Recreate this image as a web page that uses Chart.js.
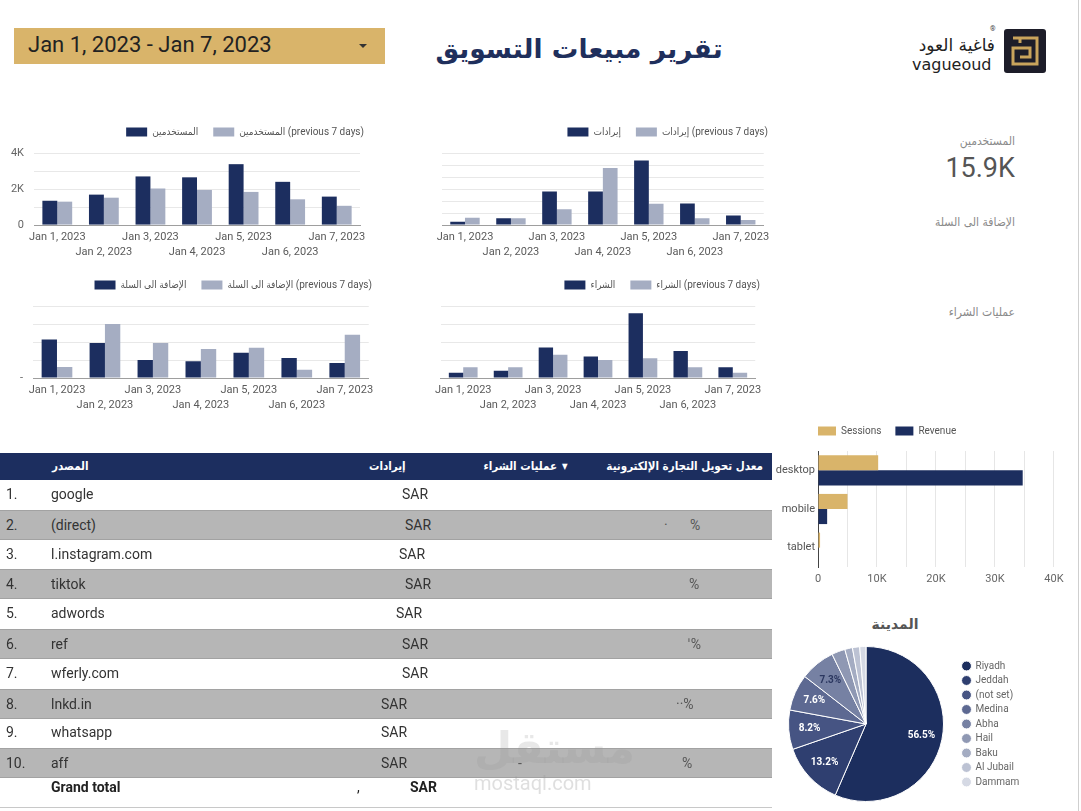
<!DOCTYPE html>
<html>
<head>
<meta charset="utf-8">
<title>تقرير مبيعات التسويق</title>
<script src="https://cdn.jsdelivr.net/npm/chart.js@4.4.1/dist/chart.umd.min.js"></script>
<style>
  html, body { margin: 0; padding: 0; }
  body { width: 1081px; height: 811px; position: relative; overflow: hidden; background: #fff;
         font-family: Roboto, 'DejaVu Sans', sans-serif; color: #333; }
  .abs { position: absolute; }
  .date-range { left: 14px; top: 28px; width: 371px; height: 36px; background: #d9b46a; }
  .date-range span { position: absolute; left: 14px; top: 4px; font-size: 22px; color: #222; }
  .date-range i { position: absolute; left: 345px; top: 16px; border-left: 4px solid transparent;
                  border-right: 4px solid transparent; border-top: 4px solid #333; }
  .title { left: 379px; width: 400px; top: 33px; text-align: center; direction: rtl;
           font: bold 26.5px 'DejaVu Sans', sans-serif; color: #1f2f5c; }
  .brand-ar { left: 880px; width: 115px; top: 35px; text-align: right; direction: rtl; font: 17px 'DejaVu Sans', sans-serif; color: #222; }
  .brand-en { left: 912px; top: 55px; font: 16px 'DejaVu Sans', sans-serif; color: #222; }
  .reg { left: 990px; top: 25px; font-size: 7px; color: #444; }
  .logo { left: 1004px; top: 29px; width: 42px; height: 44px; background: #1d1d29; border-radius: 3px; }
  .edge { left: 1078px; top: 0; width: 1px; height: 811px; background: #cfcfcf; }
  .kpi-label { right: 66px; direction: rtl; font: 12px 'DejaVu Sans Condensed', 'DejaVu Sans', sans-serif; color: #8a8a8a; }
  .kpi-value { right: 66px; top: 152px; font-size: 27px; color: #555; }
  .chart { position: absolute; }
  .thead { left: 0; top: 453px; width: 772px; height: 27px; background: #1c2e5f; }
  .thead div { position: absolute; top: 6px; direction: rtl; white-space: nowrap; font: bold 11.5px 'DejaVu Sans Condensed', 'DejaVu Sans', sans-serif; color: #fff; }
  .row { position: absolute; left: 0; width: 772px; height: 30px; font-size: 14px; color: #333; }
  .row.alt { background: #b6b6b6; border-top: 1px solid #a2a2a2; border-bottom: 1px solid #a2a2a2; box-sizing: border-box; }
  .row span { position: absolute; top: 6px; white-space: nowrap; }
  .total { position: absolute; left: 0; top: 777px; width: 772px; height: 30px; border-bottom: 1px solid #c8c8c8; font-size: 14px; color: #222; font-weight: bold; }
  .total span { position: absolute; top: 2px; }
  .city-title { left: 845px; width: 100px; top: 616px; text-align: center; direction: rtl; font: bold 14px 'DejaVu Sans', sans-serif; color: #555; }
  .mark1 { left: 474px; top: 722px; font: bold 44px 'DejaVu Sans', sans-serif; color: rgba(150,150,150,0.22); direction: rtl; }
  .mark2 { left: 474px; top: 771px; font-size: 20px; color: rgba(150,150,150,0.3); }
</style>
</head>
<body>

<div class="abs date-range"><span>Jan 1, 2023 - Jan 7, 2023</span><i></i></div>
<div class="abs title">تقرير مبيعات التسويق</div>
<div class="abs brand-ar">فاغية العود</div>
<div class="abs brand-en">vagueoud</div>
<div class="abs reg">®</div>
<div class="abs logo">
  <svg width="42" height="44" viewBox="0 0 42 44">
    <path d="M9 9 H33 V35 H9 V19 H26 V28 H16" stroke="#c9a45c" stroke-width="3" fill="none"/>
    <path d="M16 9 V14" stroke="#c9a45c" stroke-width="3" fill="none"/>
  </svg>
</div>
<div class="abs edge"></div>

<div class="abs kpi-label" style="top:134px">المستخدمين</div>
<div class="abs kpi-value">15.9K</div>
<div class="abs kpi-label" style="top:215px">الإضافة الى السلة</div>
<div class="abs kpi-label" style="top:305px">عمليات الشراء</div>

<div class="chart" style="left:0;top:112px;width:370px;height:152px"><canvas id="usersChart"></canvas></div>
<div class="chart" style="left:430px;top:112px;width:344px;height:152px"><canvas id="revenueChart"></canvas></div>
<div class="chart" style="left:0;top:265px;width:378px;height:152px"><canvas id="cartChart"></canvas></div>
<div class="chart" style="left:430px;top:265px;width:336px;height:152px"><canvas id="buyChart"></canvas></div>
<div class="chart" style="left:770px;top:412px;width:299px;height:179px"><canvas id="deviceChart"></canvas></div>
<div class="abs city-title">المدينة</div>
<div class="chart" style="left:774px;top:646px;width:274px;height:156px"><canvas id="cityChart"></canvas></div>

<div class="abs thead">
  <div style="left:52px">المصدر</div>
  <div style="left:369px">إيرادات</div>
  <div style="right:215px">عمليات الشراء</div>
  <div style="left:562px;font-size:8px;top:9px">▼</div>
  <div style="right:9px">معدل تحويل التجارة الإلكترونية</div>
</div>
<div id="rows"></div>
<div class="total"><span style="left:51px">Grand total</span><span style="left:357px;font-weight:normal">,</span><span style="left:410px">SAR</span></div>
<div class="abs mark1">مستقل</div>
<div class="abs mark2">mostaql.com</div>

<script>
const NAVY = '#1c2e5f';
const GREY = '#a5adc2';
const GOLD = '#d9b46a';
const FONT = "Roboto, 'DejaVu Sans', sans-serif";
const LEGEND_FONT = "Roboto, 'DejaVu Sans Condensed', 'DejaVu Sans', sans-serif";

// daily series (current week vs previous 7 days)
const days = ['Jan 1, 2023', 'Jan 2, 2023', 'Jan 3, 2023', 'Jan 4, 2023', 'Jan 5, 2023', 'Jan 6, 2023', 'Jan 7, 2023'];
const usersNow = [1350, 1690, 2700, 2650, 3380, 2400, 1580];
const usersPrev = [1300, 1520, 2030, 1950, 1840, 1430, 1070];
const revenueNow = [700, 1400, 6980, 6980, 13450, 4500, 1980];
const revenuePrev = [1550, 1400, 3300, 11900, 4430, 1400, 1050];
const cartNow = [107, 97, 50, 47, 70, 56, 42];
const cartPrev = [31, 150, 97, 81, 84, 23, 120];
const buyNow = [3, 4, 17, 12, 36, 15, 6];
const buyPrev = [6, 6, 13, 10, 11, 6, 3];

// device breakdown
const devices = ['desktop', 'mobile', 'tablet'];
const devSessions = [10200, 5000, 350];
const devRevenue = [34700, 1550, 0];

// city share (%)
const cities = ['Riyadh', 'Jeddah', '(not set)', 'Medina', 'Abha', 'Hail', 'Baku', 'Al Jubail', 'Dammam'];
const cityShare = [56.5, 13.2, 8.2, 7.6, 7.3, 2.8, 1.6, 1.5, 1.3];
const cityColors = ['#1c2e5e', '#2f3f70', '#465483', '#5d6992', '#7681a3', '#8f98b3', '#a4acc2', '#bcc2d3', '#d5d9e4'];

// source table
const sources = ['google', '(direct)', 'l.instagram.com', 'tiktok', 'adwords', 'ref', 'wferly.com', 'lnkd.in', 'whatsapp', 'aff'];

Chart.defaults.font.family = FONT;
Chart.defaults.color = '#5a5a5a';

// extra gap under the legend, fixed legend width, and a sideways nudge of the legend box
const legendFit = {
  id: 'legendFit',
  afterInit(chart, args, opts) {
    const lg = chart.legend;
    if (!lg) return;
    const orig = lg.fit;
    lg.fit = function () {
      orig.call(this);
      if (opts.extra) this.height += opts.extra;
      if (opts.width) this.width = opts.width;
    };
  },
  afterLayout(chart, args, opts) {
    const lg = chart.legend;
    if (lg && opts.shift) {
      lg.left += opts.shift;
      lg.right += opts.shift;
    }
  }
};

function weekChart(id, name, now, prev, max, step, yTicks, yWidth) {
  return new Chart(document.getElementById(id), {
    type: 'bar',
    data: {
      labels: days.map((d, i) => i % 2 ? ['', d] : d),
      datasets: [
        { label: name, data: now, backgroundColor: NAVY },
        { label: name + ' (previous 7 days)', data: prev, backgroundColor: GREY }
      ]
    },
    options: {
      responsive: true,
      maintainAspectRatio: false,
      animation: false,
      datasets: { bar: { categoryPercentage: 0.64, barPercentage: 1 } },
      layout: { padding: { right: 6 } },
      plugins: {
        legend: {
          align: 'end',
          labels: { boxWidth: 21, boxHeight: 9, padding: 15, color: '#555', font: { size: 10, family: LEGEND_FONT } }
        },
        tooltip: { enabled: false },
        legendFit: { extra: 6, shift: 15 }
      },
      scales: {
        x: {
          grid: { display: false, drawTicks: false },
          border: { color: '#9e9e9e' },
          ticks: { autoSkip: false, maxRotation: 0, padding: 4.5, color: '#5a5a5a', font: { size: 11, lineHeight: 1.36 } }
        },
        y: {
          min: 0,
          max: max,
          grid: { color: '#e8e8e8', drawTicks: false },
          border: { display: false },
          ticks: { stepSize: step, padding: 10, color: '#666', font: { size: 11 }, display: !!yTicks, callback: yTicks || (() => '') },
          afterFit: s => { s.width = yWidth; }
        }
      }
    },
    plugins: [legendFit]
  });
}

weekChart('usersChart', 'المستخدمين', usersNow, usersPrev, 4000, 1000,
  v => v % 2000 === 0 ? (v ? v / 1000 + 'K' : '0') : '', 34);
weekChart('revenueChart', 'إيرادات', revenueNow, revenuePrev, 15000, 2500, null, 12);
weekChart('cartChart', 'الإضافة الى السلة', cartNow, cartPrev, 200, 50, v => v === 0 ? '-' : '', 33);
weekChart('buyChart', 'الشراء', buyNow, buyPrev, 40, 10, null, 10);

// device bars
new Chart(document.getElementById('deviceChart'), {
  type: 'bar',
  data: {
    labels: devices,
    datasets: [
      { label: 'Sessions', data: devSessions, backgroundColor: GOLD },
      { label: 'Revenue', data: devRevenue, backgroundColor: NAVY }
    ]
  },
  options: {
    indexAxis: 'y',
    responsive: true,
    maintainAspectRatio: false,
    animation: false,
    datasets: { bar: { categoryPercentage: 0.78, barPercentage: 1 } },
    layout: { padding: { right: 9 } },
    plugins: {
      legend: { align: 'start', labels: { boxWidth: 18, boxHeight: 9, padding: 14, color: '#555', font: { size: 10 } } },
      tooltip: { enabled: false },
      legendFit: { extra: 5, shift: 34 }
    },
    scales: {
      x: {
        min: 0,
        max: 40000,
        grid: { color: '#e6e6e6', drawTicks: false },
        border: { display: false },
        ticks: { stepSize: 5000, padding: 5.4, color: '#666', font: { size: 11 },
                 callback: v => v % 10000 === 0 ? (v ? v / 1000 + 'K' : '0') : '' }
      },
      y: {
        grid: { display: false, drawTicks: false },
        border: { color: '#444' },
        ticks: { padding: 3, color: '#555', font: { size: 11 } },
        afterFit: s => { s.width = 48; }
      }
    }
  },
  plugins: [legendFit]
});

// percentage labels inside the larger slices
const sliceLabels = {
  id: 'sliceLabels',
  afterDatasetsDraw(chart) {
    const ctx = chart.ctx;
    const values = chart.data.datasets[0].data;
    ctx.save();
    ctx.font = 'bold 10px ' + FONT;
    ctx.textAlign = 'center';
    ctx.textBaseline = 'middle';
    chart.getDatasetMeta(0).data.forEach((arc, i) => {
      if (values[i] < 5) return;
      const p = arc.getProps(['x', 'y', 'startAngle', 'endAngle', 'outerRadius'], true);
      const mid = (p.startAngle + p.endAngle) / 2;
      const r = p.outerRadius * 0.73;
      ctx.fillStyle = i === 4 ? '#2b3760' : '#fff';
      ctx.fillText(values[i].toFixed(1) + '%', p.x + Math.cos(mid) * r, p.y + Math.sin(mid) * r);
    });
    ctx.restore();
  }
};

new Chart(document.getElementById('cityChart'), {
  type: 'pie',
  data: {
    labels: cities,
    datasets: [{ data: cityShare, backgroundColor: cityColors, borderColor: '#fff', borderWidth: 1 }]
  },
  options: {
    responsive: true,
    maintainAspectRatio: false,
    animation: false,
    plugins: {
      legend: {
        position: 'right',
        align: 'center',
        labels: { usePointStyle: true, pointStyle: 'circle', boxWidth: 8, boxHeight: 7, padding: 4.5, color: '#666', font: { size: 10 } }
      },
      tooltip: { enabled: false },
      legendFit: { width: 90 }
    }
  },
  plugins: [legendFit, sliceLabels]
});

// source table rows
const sarLeft = [402, 405, 399, 405, 396, 402, 402, 381, 381, 381];
const rowMarks = [[], [[664, '·'], [690, '%']], [], [[689, '%']], [], [[687, 'ˈ%']], [], [[676, '··%']], [], [[518, '-'], [682, '%']]];
const rowsEl = document.getElementById('rows');
sources.forEach((src, i) => {
  const row = document.createElement('div');
  row.className = 'row' + (i % 2 ? ' alt' : '');
  row.style.top = (480 + i * 29.8) + 'px';
  let html = `<span style="left:6px">${i + 1}.</span><span style="left:51px">${src}</span>` +
             `<span style="left:${sarLeft[i]}px">SAR</span>`;
  rowMarks[i].forEach(([x, t]) => { html += `<span style="left:${x}px;color:#555">${t}</span>`; });
  row.innerHTML = html;
  rowsEl.appendChild(row);
});
</script>
</body>
</html>
